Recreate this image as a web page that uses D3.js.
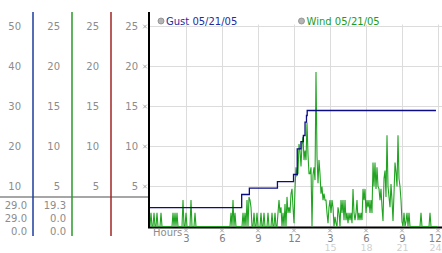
<!DOCTYPE html>
<html lang="en">
<head>
<meta charset="UTF-8">
<title>Gust / Wind 05/21/05</title>
<script src="https://cdnjs.cloudflare.com/ajax/libs/d3/7.8.5/d3.min.js"></script>
<style>
    body { margin: 0; background: #fff; }
    text { font-family: "DejaVu Sans", Verdana, sans-serif; font-size: 10px; }
</style>
</head>
<body>
<div id="chart"></div>
<script>
    // hours of the day, one x tick every 3 hours
    var hourTicks = [3, 6, 9, 12, 15, 18, 21, 24];
    var hourTicks2 = [15, 18, 21, 24];
    var gustTicks = [10, 20, 30, 40, 50];
    var windTicks = [5, 10, 15, 20, 25];

    var gustStats = ["29.0", "29.0", "0.0"];
    var windStats = ["19.3", "0.0", "0.0"];

    // gust: step values [hour, mph]
    var gustHours = [0, 7.64, 8.28, 10.62, 11.96, 12.27, 12.58, 12.78, 12.92, 13.04, 13.1, 23.83];
    var gustValues = [4.7, 8.0, 9.6, 11.2, 13.0, 19.4, 21.2, 22.75, 26.1, 27.75, 29.0, 29.0];

    // wind: one reading every 5 minutes from 00:00
    var windValues = [
        0,1.7,0,0,1.7,0,0,1.7,0,0,
        0,1.7,0,0,0,0,0,0,0,0,
        0,0,0,1.7,0,1.7,0,1.7,0,0,
        0,0,0,3.3,0,0,1.7,0,0,0,
        0,3.3,0,0,0,1.7,0,0,0,0,
        0,0,0,0,0,0,0,0,0,0,
        0,0,0,0,0,0,0,0,0,0,
        0,0,0,0,0,0,0,0,0,0,
        0,1.7,0,3.3,0,1.7,0,0,0,0,
        0,0,0,1.7,0,1.7,0,3.3,0,3.7,
        3.3,2.4,0,0,1.7,0,0,1.7,0,0,
        0,1.7,0,0,1.7,0,0,0,1.7,0,
        0,0,1.7,0,0,1.7,0,0,1.7,3.3,
        1.7,2.4,0,1.7,0,2.8,0,3.7,1.7,2.4,
        1.7,4.1,4.7,2.4,0.4,4.7,7.4,6.4,6.6,10.3,
        9.5,7.5,10.3,11.2,8.3,9.5,8.3,13,9,6.6,
        6.6,7.4,0,6.4,7.4,5.8,19.3,8.8,5.4,8.3,
        6.6,4.1,5,3.3,4.1,3.3,3.3,1.7,0.4,2.4,
        3.3,1.7,3.3,2.4,0,1.2,0.4,0,2.4,1.7,
        0,3.3,1.7,3.3,0.8,3.3,0.8,1.7,0.4,1.7,
        0.8,1.7,0.4,4.7,1.7,0.8,1.7,3.3,0.8,1.7,
        0.8,1.7,0.8,4.7,3.3,4.7,1.7,3.3,2.4,3.3,
        1.7,3.3,1.7,8,5,8,4.7,7.4,5,4.7,
        3.3,4.7,2.4,0.7,6,7,3.7,11.4,5,3.7,
        2.4,5.3,3.3,0.7,4.1,8,6.8,5,11.4,6,
        5,3.3,0.6,0,1.7,0,0.6,1.7,0,1.7,
        0,0,0,0,0,0,0,0,0,0,
        0,1.7,0,0,0,0,0,0,0,0,
        1.7,0,0,0,0,0,0,0
    ];

    var width = 442, height = 253;
    var plotLeft = 150, plotRight = 438, plotTop = 26.5, plotBottom = 226.5;
    var textGray = "#8c8c8c";

    var x = d3.scaleLinear().domain([0, 24]).range([plotLeft, plotRight]);
    var yWind = d3.scaleLinear().domain([0, 25]).range([plotBottom, plotTop]);
    var yGust = d3.scaleLinear().domain([0, 50]).range([plotBottom, plotTop]);

    var svg = d3.select("#chart").append("svg")
        .attr("width", width)
        .attr("height", height);

    // grid
    svg.append("g").selectAll("line").data(windTicks).join("line")
        .attr("x1", plotLeft).attr("x2", width)
        .attr("y1", function (d) { return yWind(d); })
        .attr("y2", function (d) { return yWind(d); })
        .attr("stroke", "#dcdcdc");
    svg.append("g").selectAll("line").data(hourTicks).join("line")
        .attr("x1", function (d) { return Math.round(x(d)) + 0.5; })
        .attr("x2", function (d) { return Math.round(x(d)) + 0.5; })
        .attr("y1", plotTop - 2).attr("y2", plotBottom)
        .attr("stroke", "#dcdcdc");

    // left panel columns
    var columns = [
        {x: 33, color: "#1c3c9c"},
        {x: 72, color: "#2a9a2a"},
        {x: 111, color: "#a02424"}
    ];
    svg.append("line")
        .attr("x1", 0).attr("x2", 149)
        .attr("y1", 197).attr("y2", 197)
        .attr("stroke", "#a6a6a6").attr("stroke-width", 2);
    svg.append("g").selectAll("line").data(columns).join("line")
        .attr("x1", function (d) { return d.x; }).attr("x2", function (d) { return d.x; })
        .attr("y1", 12).attr("y2", 236)
        .attr("stroke", function (d) { return d.color; })
        .attr("stroke-width", 1.5);

    function sideAxis(scale, ticks, xPos) {
        var g = svg.append("g")
            .attr("transform", "translate(" + xPos + ",0)")
            .call(d3.axisLeft(scale).tickValues(ticks).tickSize(0).tickPadding(0));
        g.select(".domain").remove();
        g.selectAll("text").attr("fill", textGray)
            .attr("font-family", null).attr("font-size", null);
        return g;
    }
    sideAxis(yGust, gustTicks, 21);
    sideAxis(yWind, windTicks, 60);
    sideAxis(yWind, windTicks, 99);
    sideAxis(yWind, windTicks, 138);

    function stats(values, xPos) {
        svg.append("g").selectAll("text").data(values).join("text")
            .attr("x", xPos)
            .attr("y", function (d, i) { return 209 + i * 13; })
            .attr("text-anchor", "end")
            .attr("fill", textGray)
            .text(function (d) { return d; });
    }
    stats(gustStats, 27);
    stats(windStats, 66);

    // x axis
    svg.append("line")
        .attr("x1", 148).attr("x2", width)
        .attr("y1", 227.5).attr("y2", 227.5)
        .attr("stroke", "#000").attr("stroke-width", 2);

    function hourAxis(ticks, yPos, color, size, fmt) {
        var g = svg.append("g")
            .attr("transform", "translate(0," + yPos + ")")
            .call(d3.axisBottom(x).tickValues(ticks).tickSize(0).tickPadding(0).tickFormat(fmt));
        g.select(".domain").remove();
        g.selectAll("text")
            .attr("y", 0).attr("dy", null)
            .attr("fill", color)
            .attr("font-family", null).attr("font-size", null)
            .style("font-size", size + "px")
            .filter(function (d) { return d === 24; })
            .attr("text-anchor", "end")
            .attr("x", 3);
        return g;
    }
    hourAxis(hourTicks, 241.5, "#808080", 10, function (d) { return d > 12 ? d - 12 : d; });
    hourAxis(hourTicks2, 251, "#cfcfcf", 9.5, function (d) { return d; });

    svg.append("text")
        .attr("x", 153).attr("y", 235.5)
        .attr("fill", "#8c8c8c")
        .text("Hours");

    // small tick markers
    var marker = d3.symbol().type(d3.symbolX).size(10);
    svg.append("g").selectAll("path").data(hourTicks).join("path")
        .attr("transform", function (d) { return "translate(" + x(d) + ",230.5)"; })
        .attr("d", marker)
        .attr("fill", "none").attr("stroke", "#a8a8a8");
    svg.append("g").selectAll("path").data(windTicks).join("path")
        .attr("transform", function (d) { return "translate(145," + yWind(d) + ")"; })
        .attr("d", marker)
        .attr("fill", "none").attr("stroke", "#a8a8a8");

    // series
    var windLine = d3.line()
        .x(function (d, i) { return x(i / 12); })
        .y(function (d) { return yWind(d); });
    svg.append("path")
        .datum(windValues)
        .attr("d", windLine)
        .attr("fill", "none")
        .attr("stroke", "#22a422")
        .attr("stroke-width", 1.1);

    var gustLine = d3.line()
        .curve(d3.curveStepAfter)
        .x(function (d, i) { return x(gustHours[i]); })
        .y(function (d) { return yGust(d); });
    svg.append("path")
        .datum(gustValues)
        .attr("d", gustLine)
        .attr("fill", "none")
        .attr("stroke", "#0c0c84")
        .attr("stroke-width", 1.3);

    // left plot axis
    svg.append("line")
        .attr("x1", 149).attr("x2", 149)
        .attr("y1", 12).attr("y2", 228)
        .attr("stroke", "#000").attr("stroke-width", 2);

    // legend
    var legend = [
        {label: "Gust 05/21/05", x: 161, color: "#1e2c9c"},
        {label: "Wind 05/21/05", x: 301.5, color: "#1c9c1c"}
    ];
    var lg = svg.append("g").selectAll("g").data(legend).join("g")
        .attr("transform", function (d) { return "translate(" + d.x + ",21)"; });
    lg.append("circle")
        .attr("r", 3)
        .attr("fill", "#b4b4b4")
        .attr("stroke", "#8a8a8a")
        .attr("stroke-width", 0.8);
    lg.append("text")
        .attr("x", 5).attr("y", 3.5)
        .attr("fill", function (d) { return d.color; })
        .text(function (d) { return d.label; });
</script>
</body>
</html>
